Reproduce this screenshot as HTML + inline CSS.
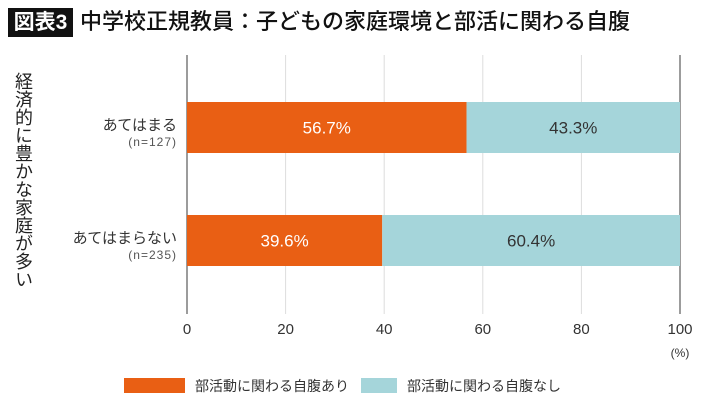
<!DOCTYPE html>
<html><head><meta charset="utf-8"><style>
body{margin:0;width:710px;height:411px;background:#fff;font-family:"Liberation Sans","Noto Sans CJK JP",sans-serif;overflow:hidden;position:relative;color:#333}
</style></head><body>
<div style="position:absolute;left:8px;top:8px;width:65px;height:29px;background:#111;color:#fff;font-size:21px;font-weight:bold;line-height:29px;text-align:center">図表3</div>
<div style="position:absolute;left:80px;top:6px;font-size:22px;line-height:32px;color:#111;font-weight:500">中学校正規教員：子どもの家庭環境と部活に関わる自腹</div>
<div style="position:absolute;left:10px;top:72px;width:24px;font-size:18px;line-height:23px;writing-mode:vertical-rl;color:#222">経済的に豊かな家庭が多い</div>
<svg id="chart" width="710" height="411" style="position:absolute;left:0;top:0"></svg>
<script>
const categories=["あてはまる","あてはまらない"];
const counts=["(n=127)","(n=235)"];
const withCost=[56.7,39.6];
const withoutCost=[43.3,60.4];
const ticks=[0,20,40,60,80,100];
const NS="http://www.w3.org/2000/svg";
const svg=document.getElementById('chart');
const x0=187,x1=680,plotTop=55,plotBottom=314;
const xs=v=>x0+(x1-x0)*v/100;
const rowY=[102,215],bh=51;
function mk(t,a,txt){const e=document.createElementNS(NS,t);for(const k in a)e.setAttribute(k,a[k]);if(txt!=null)e.textContent=txt;svg.appendChild(e);return e;}
ticks.forEach((t,i)=>{
 const g=mk('line',{x1:xs(t),x2:xs(t),y1:plotTop,y2:plotBottom,stroke:(i==0||i==ticks.length-1)?'#666':'#ddd','stroke-width':(i==0||i==ticks.length-1)?1.3:1});
 
 
 const l=mk('text',{x:xs(t),y:334,'text-anchor':'middle','font-size':15,fill:'#333'},t);
 
 
});
const u=mk('text',{x:680,y:357,'text-anchor':'middle','font-size':12,fill:'#333'},'(%)');


categories.forEach((c,i)=>{
 const y=rowY[i];
 const a=mk('rect',{x:xs(0),y:y,width:xs(withCost[i])-xs(0),height:bh,fill:'#e95f14'});
 
 
 const b=mk('rect',{x:xs(withCost[i]),y:y,width:xs(withCost[i]+withoutCost[i])-xs(withCost[i]),height:bh,fill:'#a5d5da'});
 
 
 const la=mk('text',{x:(xs(0)+xs(withCost[i]))/2,y:y+bh/2+6,'text-anchor':'middle','font-size':17,fill:'#fff'},withCost[i].toFixed(1)+'%');
 
 
 const lb=mk('text',{x:(xs(withCost[i])+xs(100))/2,y:y+bh/2+6,'text-anchor':'middle','font-size':17,fill:'#333'},withoutCost[i].toFixed(1)+'%');
 
 
 const cl=mk('text',{x:177,y:y+28,'text-anchor':'end','font-size':15,fill:'#333'},c);
 
 
 const nl=mk('text',{x:177,y:y+44,'text-anchor':'end','font-size':12,'letter-spacing':1,fill:'#555'},counts[i]);
 
 
});
const s1=mk('rect',{x:124,y:378,width:61,height:15,fill:'#e95f14'});


const t1=mk('text',{x:195,y:391,'font-size':14,fill:'#333'},'部活動に関わる自腹あり');


const s2=mk('rect',{x:361,y:378,width:36,height:15,fill:'#a5d5da'});


const t2=mk('text',{x:407,y:391,'font-size':14,fill:'#333'},'部活動に関わる自腹なし');


</script>
</body></html>
